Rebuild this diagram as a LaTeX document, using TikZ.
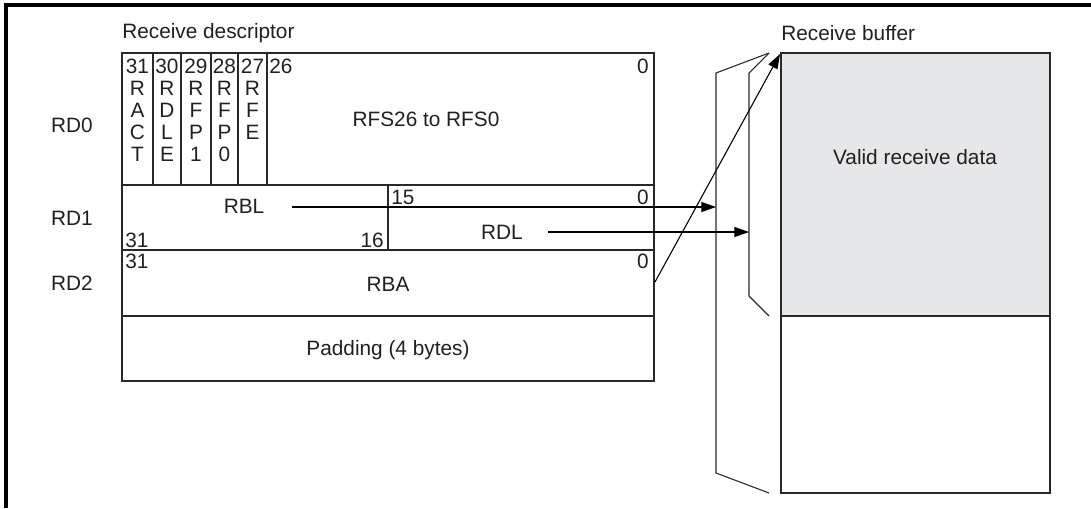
\documentclass[tikz,border=0pt]{standalone}
\usepackage{fontspec}
\setmainfont{Liberation Sans}
\usetikzlibrary{arrows.meta}
\definecolor{bufgray}{RGB}{230,231,232}
\definecolor{linegray}{RGB}{40,40,40}
\definecolor{textcol}{RGB}{35,31,32}
\tikzset{
  lbl/.style={inner sep=0pt, text=textcol, font=\fontsize{15.6}{18}\selectfont},
  inner line/.style={line width=0.8pt, draw=linegray},
  outer box/.style={line width=1.6pt, draw=linegray},
  buf box/.style={line width=2.2pt, draw=linegray},
  frame line/.style={line width=2.3pt, draw=black},
  bracket/.style={line width=0.8pt, draw=linegray},
  arr/.style={-{Triangle[length=11pt,width=7.5pt]}, line width=0.8pt, draw=black, fill=black},
}
\begin{document}
\begin{tikzpicture}[x=0.75pt,y=-0.75pt]
\useasboundingbox (0,0) rectangle (1091,508);
% frame
\draw[frame line] (6,508) -- (6,5) -- (1091,5);
% titles
\node[lbl, anchor=west] (tdesc) at (122,33) {Receive descriptor};
\node[lbl, anchor=west] (tbuf) at (781,33) {Receive buffer};
% row labels
\node[lbl] (rd0) at (72,125) {RD0};
\node[lbl] (rd1) at (72,218) {RD1};
\node[lbl] (rd2) at (72,283) {RD2};
% descriptor inner lines
\draw[inner line] (122,185) -- (654,185);
\draw[inner line] (122,250) -- (654,250);
\draw[inner line] (122,316) -- (654,316);
\foreach \x in {153,181,211,238,267} \draw[inner line] (\x,53) -- (\x,185);
\draw[inner line] (388,185) -- (388,250);
\draw[outer box] (122,53) rectangle (654,381);
% RD0 bit texts
\node[lbl] (b31) at (137.5,66) {31};
\node[lbl] (b30) at (167,66) {30};
\node[lbl] (b29) at (196,66) {29};
\node[lbl] (b28) at (224.5,66) {28};
\node[lbl] (b27) at (252.5,66) {27};
\node[lbl, anchor=west] (b26) at (269,66) {26};
\node[lbl, anchor=east] (b0a) at (649,66) {0};
\foreach \t [count=\i] in {R,A,C,T} \node[lbl] (ract\i) at (137.5,66+22*\i) {\t};
\foreach \t [count=\i] in {R,D,L,E} \node[lbl] (rdle\i) at (167,66+22*\i) {\t};
\foreach \t [count=\i] in {R,F,P,1} \node[lbl] (rfp1\i) at (196,66+22*\i) {\t};
\foreach \t [count=\i] in {R,F,P,0} \node[lbl] (rfp0\i) at (224.5,66+22*\i) {\t};
\foreach \t [count=\i] in {R,F,E} \node[lbl] (rfe\i) at (252.5,66+22*\i) {\t};
\node[lbl] (rfs) at (426,119) {RFS26 to RFS0};
% RD1 texts
\node[lbl] (rbl) at (244,206) {RBL};
\node[lbl, anchor=west] (b15) at (391,197) {15};
\node[lbl, anchor=east] (b0b) at (649,197) {0};
\node[lbl, anchor=west] (b31b) at (125,240) {31};
\node[lbl, anchor=east] (b16) at (384,240) {16};
\node[lbl] (rdl) at (502,232) {RDL};
% RD2 texts
\node[lbl, anchor=west] (b31c) at (125,261) {31};
\node[lbl, anchor=east] (b0c) at (649,261) {0};
\node[lbl] (rba) at (388,284) {RBA};
% padding
\node[lbl] (pad) at (388,350) {Padding (4 bytes)};
% buffer
\fill[bufgray] (781,53) rectangle (1050,316);
\draw[buf box] (781,316) -- (1050,316);
\draw[buf box] (781,53) rectangle (1050,493);
\node[lbl] (valid) at (915,157) {Valid receive data};
% brackets
\coordinate (brtop) at (769,53);
\draw[bracket] (brtop) -- (716,73) -- (716,473) -- (769,493);
\draw[bracket] (brtop) -- (749,73) -- (749,296) -- (769,316);
% arrows
\coordinate (rblS) at (292,207);
\coordinate (rblE) at (716,207);
\coordinate (rdlS) at (548,232);
\coordinate (rdlE) at (749,232);
\coordinate (rbaS) at (655,282);
\coordinate (bufTL) at (780,54);
\draw[arr] (rblS) -- (rblE);
\draw[arr] (rdlS) -- (rdlE);
\draw[arr] (rbaS) -- (bufTL);
\end{tikzpicture}
\end{document}
